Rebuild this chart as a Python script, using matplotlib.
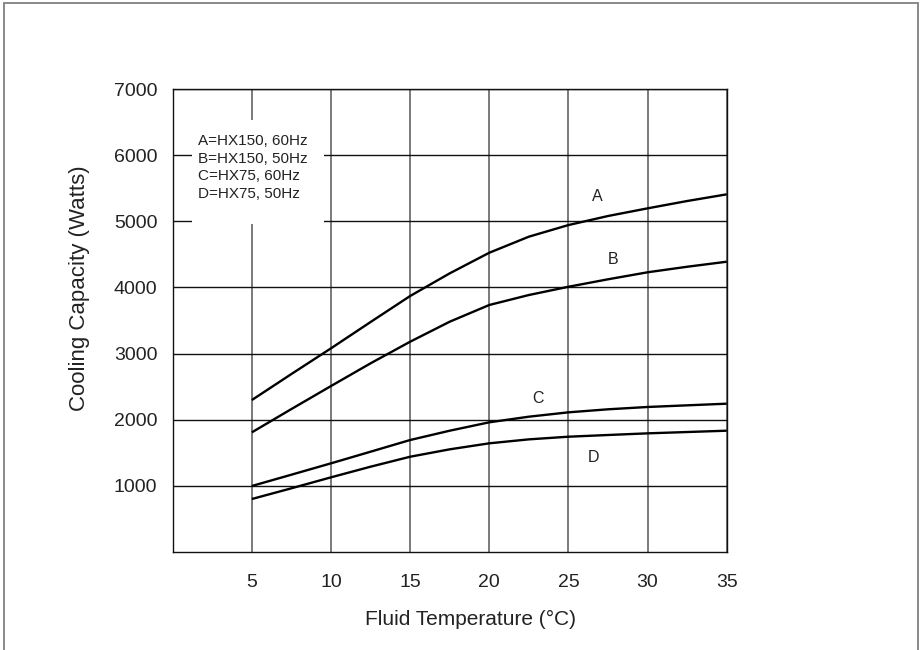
import matplotlib
matplotlib.use("Agg")
from matplotlib import pyplot as plt
from matplotlib.patches import Rectangle

plt.rcParams['font.family'] = ['Liberation Sans', 'DejaVu Sans']

# fluid temperature (C) and cooling capacity (W)
temp = [5, 7.5, 10, 12.5, 15, 17.5, 20, 22.5, 25, 27.5, 30, 32.5, 35]
cap_a = [2296, 2690, 3079, 3477, 3871, 4214, 4526, 4769, 4945, 5082, 5198, 5309, 5410]
cap_b = [1807, 2160, 2508, 2852, 3179, 3482, 3735, 3886, 4011, 4124, 4230, 4314, 4390]
cap_c = [995, 1166, 1338, 1514, 1691, 1832, 1959, 2044, 2110, 2156, 2191, 2216, 2241]
cap_d = [798, 960, 1126, 1287, 1438, 1550, 1641, 1701, 1741, 1767, 1792, 1812, 1832]

curve_names = ["A", "B", "C", "D"]
label_x = [26.8, 27.8, 23.1, 26.6]
label_y = [5370, 4430, 2320, 1420]

legend_lines = ["A=HX150, 60Hz", "B=HX150, 50Hz", "C=HX75, 60Hz", "D=HX75, 50Hz"]

xticks = [5, 10, 15, 20, 25, 30, 35]
yticks = [1000, 2000, 3000, 4000, 5000, 6000, 7000]

fig = plt.figure(figsize=(9.22, 6.5), dpi=100)
ax = fig.add_axes([0.1873, 0.1512, 0.6009, 0.7114])

# outer frame of the picture (bottom edge is cut off)
fig.patches.append(Rectangle((4 / 922, -0.02), 914 / 922, 1.02 - 3 / 650,
                             transform=fig.transFigure, fill=False,
                             edgecolor='#808080', lw=1.3))

ax.set_xlim(0, 35)
ax.set_ylim(0, 7000)
ax.set_xticks(xticks)
ax.set_yticks(yticks)
ax.tick_params(length=0, labelsize=14, colors='#222222')
ax.tick_params(axis='x', pad=16)
ax.tick_params(axis='y', pad=11)

ax.set_axisbelow(True)
ax.xaxis.grid(True, color='#707070', lw=1.3)
ax.yaxis.grid(True, color='#111111', lw=1.0)
for s in ax.spines.values():
    s.set_color('#111111')
    s.set_linewidth(1.0)

for ys in [cap_a, cap_b, cap_c, cap_d]:
    ax.plot(temp, ys, color='black', lw=1.7, zorder=3, solid_capstyle='butt')

for name, lx, ly in zip(curve_names, label_x, label_y):
    ax.text(lx, ly, name, fontsize=11.5, ha='center', va='center', color='#222222')

# white box behind the key, hiding the grid
ax.add_patch(Rectangle((1.22, 4960), 8.35, 1575, facecolor='white',
                       edgecolor='none', zorder=1))
for i, line in enumerate(legend_lines):
    ax.text(1.6, 6217 - i * 268, line, fontsize=11, ha='left', va='center',
            color='#222222', zorder=4)

ax.set_xlabel("Fluid Temperature (°C)", fontsize=15, color='#222222')
ax.xaxis.set_label_coords(0.5367, -0.125)
ax.set_ylabel("Cooling Capacity (Watts)", fontsize=16, color='#222222')
ax.yaxis.set_label_coords(-0.150, 0.569)

fig.savefig("out.png", dpi=100)
